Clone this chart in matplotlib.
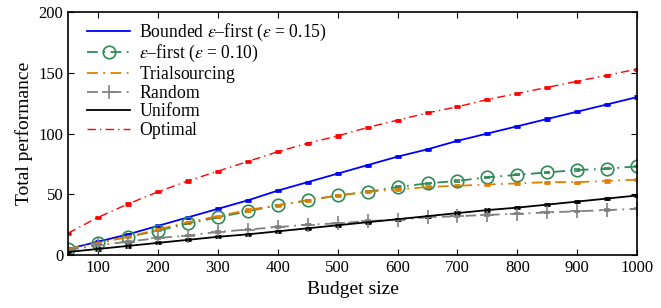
import matplotlib
matplotlib.use('Agg')
import matplotlib.pyplot as plt

plt.rcParams['font.family'] = 'Liberation Serif'
plt.rcParams['mathtext.fontset'] = 'stix'

# budget sizes
budget = [50, 100, 150, 200, 250, 300, 350, 400, 450, 500,
          550, 600, 650, 700, 750, 800, 850, 900, 950, 1000]

bounded = [5, 11, 17, 24, 31, 38, 45, 53, 60, 67,
           74, 81, 87, 94, 100, 106, 112, 118, 124, 130]
eps_first = [5, 10, 15, 20, 26, 31, 36, 41, 45, 49,
             52, 56, 59, 61, 64, 66, 68, 70, 71, 73]
trialsourcing = [5, 10, 15, 21, 27, 32, 37, 41, 45, 49,
                 52, 54, 56, 57, 58, 59, 60, 60, 61, 62]
random_ = [4, 8, 11, 14, 16, 19, 21, 23, 25, 26,
           28, 29, 31, 32, 33, 34, 35, 36, 37, 38]
uniform = [2.5, 5, 7.5, 10, 12.5, 15, 17, 19.5, 22, 24.5,
           27, 29.5, 32, 34.5, 37, 39, 41.5, 44, 46.5, 49]
optimal = [18, 31, 42, 52, 61, 69, 77, 85, 92, 98,
           105, 111, 117, 122, 128, 133, 138, 143, 148, 153]

# trailing $\,$ keeps every legend row the same (mathtext) height
labels = [r'Bounded $\varepsilon$–first ($\varepsilon$ = 0.15)',
          r'$\varepsilon$–first ($\varepsilon$ = 0.10)',
          r'Trialsourcing$\,$', r'Random$\,$', r'Uniform$\,$', r'Optimal$\,$']

err = 0.5
dd = (6, 3, 1, 3)

fig = plt.figure(figsize=(6.61, 3.08), dpi=100)
ax = fig.add_axes([0.103, 0.172, 0.861, 0.789])

cb = dict(capsize=2.5, capthick=2, elinewidth=1)
h = []
h.append(ax.errorbar(budget, bounded, yerr=err, color='#0000ff', linestyle='-', lw=1.3, **cb))
h.append(ax.errorbar(budget, eps_first, yerr=err, color='#2e8b57', linestyle='-.', lw=1.3,
                     marker='o', markersize=9, markerfacecolor='none', markeredgewidth=1.2,
                     dashes=dd, **cb))
h.append(ax.errorbar(budget, trialsourcing, yerr=err, color='#e08000', linestyle='-.', lw=1.3,
                     dashes=dd, **cb))
h.append(ax.errorbar(budget, random_, yerr=err, color='#808080', linestyle='-.', lw=1.3,
                     marker='+', markersize=10, markeredgewidth=1.2, dashes=dd, **cb))
h.append(ax.errorbar(budget, uniform, yerr=err, color='black', linestyle='-', lw=1.3, **cb))
h.append(ax.errorbar(budget, optimal, yerr=err, color='#ff0000', linestyle='-.', lw=1.0,
                     dashes=dd, **cb))

ax.set_xlim(50, 1000)
ax.set_ylim(0, 200)
ax.set_xticks([100, 200, 300, 400, 500, 600, 700, 800, 900, 1000])
ax.set_yticks([0, 50, 100, 150, 200])
ax.tick_params(direction='in', top=True, right=True, labelsize=12, length=4)
ax.set_xlabel('Budget size', fontsize=14)
ax.set_ylabel('Total performance', fontsize=14)
for s in ax.spines.values():
    s.set_linewidth(1.2)

ax.legend([c[0] for c in h], labels, loc='upper left', bbox_to_anchor=(0.034, 0.958),
          frameon=False, fontsize=12.7, handlelength=2.4, handletextpad=0.5,
          labelspacing=0.0, borderaxespad=0.0, borderpad=0.0)

fig.savefig('out.png', dpi=100)
